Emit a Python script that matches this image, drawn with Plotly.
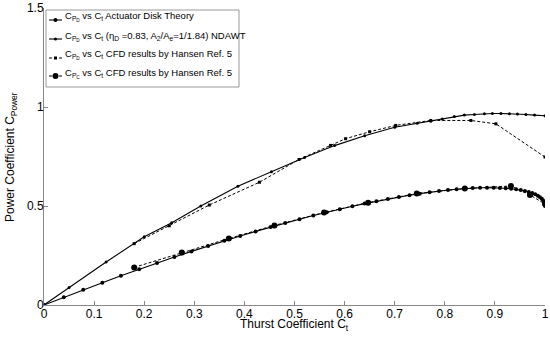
import plotly.graph_objects as go

# Actuator disk theory (C_PD vs C_t)
ad_ct = [0, 0.0396, 0.0784, 0.1164, 0.1536, 0.19, 0.2256, 0.2604, 0.2944, 0.3276, 0.36,
         0.3916, 0.4224, 0.4524, 0.4816, 0.51, 0.5376, 0.5644, 0.5904, 0.6156, 0.64,
         0.6636, 0.6864, 0.7084, 0.7296, 0.75, 0.7696, 0.7884, 0.8064, 0.8236, 0.84,
         0.8556, 0.8704, 0.8844, 0.8976, 0.91, 0.9216, 0.9324, 0.9424, 0.9516, 0.96,
         0.9676, 0.9744, 0.9804, 0.9856, 0.99, 0.9936, 0.9964, 0.9984, 0.9996, 1.0]
ad_cp = [0, 0.0392, 0.0768, 0.1129, 0.1475, 0.1805, 0.2121, 0.2422, 0.2708, 0.2981, 0.324,
         0.3485, 0.3717, 0.3936, 0.4142, 0.4335, 0.4516, 0.4685, 0.4841, 0.4986, 0.512,
         0.5242, 0.5354, 0.5455, 0.5545, 0.5625, 0.5695, 0.5755, 0.5806, 0.5848, 0.588,
         0.5904, 0.5919, 0.5925, 0.5924, 0.5915, 0.5898, 0.5874, 0.5843, 0.5805, 0.576,
         0.5709, 0.5652, 0.5588, 0.5519, 0.5445, 0.5365, 0.5281, 0.5191, 0.5098, 0.5]

# NDAWT (eta_D = 0.83, A2/Ae = 1/1.84)
nd_ct = [0, 0.05, 0.124, 0.2, 0.255, 0.313, 0.387, 0.454, 0.52, 0.58, 0.64, 0.70, 0.745,
         0.772, 0.795, 0.819, 0.839, 0.859, 0.879, 0.895, 0.912, 0.929, 0.945, 0.962, 0.979, 1.0]
nd_cp = [0, 0.088, 0.217, 0.345, 0.415, 0.50, 0.60, 0.673, 0.745, 0.805, 0.855, 0.898, 0.918,
         0.928, 0.940, 0.952, 0.959, 0.962, 0.966, 0.967, 0.967, 0.966, 0.965, 0.962, 0.959, 0.956]

# Hansen CFD C_PD
hd_ct = [0.18, 0.25, 0.33, 0.43, 0.509, 0.572, 0.602, 0.65, 0.702, 0.772, 0.852, 0.902, 1.0]
hd_cp = [0.31, 0.40, 0.505, 0.62, 0.735, 0.806, 0.84, 0.875, 0.907, 0.932, 0.932, 0.915, 0.747]

# Hansen CFD C_PC
hc_ct = [0.18, 0.275, 0.369, 0.46, 0.559, 0.647, 0.744, 0.84, 0.932, 0.97, 1.0]
hc_cp = [0.19, 0.265, 0.336, 0.402, 0.467, 0.517, 0.563, 0.588, 0.601, 0.556, 0.51]

x_ticks = [0, 0.1, 0.2, 0.3, 0.4, 0.5, 0.6, 0.7, 0.8, 0.9, 1]
x_labels = ["0", "0.1", "0.2", "0.3", "0.4", "0.5", "0.6", "0.7", "0.8", "0.9", "1"]
y_ticks = [0, 0.5, 1, 1.5]
y_labels = ["0", "0.5", "1", "1.5"]

legend_labels = [
    "C<sub>P<sub>D</sub></sub> vs C<sub>t</sub> Actuator Disk Theory",
    "C<sub>P<sub>D</sub></sub> vs C<sub>t</sub> (η<sub>D</sub> =0.83, A<sub>2</sub>/A<sub>e</sub>=1/1.84) NDAWT",
    "C<sub>P<sub>D</sub></sub> vs C<sub>t</sub> CFD results by Hansen Ref. 5",
    "C<sub>P<sub>C</sub></sub> vs C<sub>t</sub> CFD results by Hansen Ref. 5",
]

W, H = 550, 342
ML, MR, MT, MB = 44, 5, 8, 37
PW, PH = W - ML - MR, H - MT - MB


def px(x):
    return (x - ML) / PW


def py(y):
    return (H - MB - y) / PH


fig = go.Figure()
fig.add_trace(go.Scatter(x=ad_ct, y=ad_cp, mode="lines+markers",
                         line=dict(color="black", width=1.1),
                         marker=dict(color="black", size=4), name=legend_labels[0]))
fig.add_trace(go.Scatter(x=nd_ct, y=nd_cp, mode="lines+markers",
                         line=dict(color="black", width=1.1),
                         marker=dict(color="black", size=3), name=legend_labels[1]))
fig.add_trace(go.Scatter(x=hd_ct, y=hd_cp, mode="lines+markers",
                         line=dict(color="black", width=1.0, dash="3px,2px"),
                         marker=dict(color="black", size=3, symbol="square"), name=legend_labels[2]))
fig.add_trace(go.Scatter(x=hc_ct, y=hc_cp, mode="lines+markers",
                         line=dict(color="black", width=1.0, dash="3px,2px"),
                         marker=dict(color="black", size=6), name=legend_labels[3]))

shapes = []
annotations = []
# legend box
shapes.append(dict(type="rect", xref="paper", yref="paper",
                   x0=px(46), x1=px(239), y0=py(87), y1=py(10),
                   line=dict(color="#999999", width=1), fillcolor="white", layer="above"))
row_text_y = [17, 36, 55, 73]
row_line_y = [20, 39, 58, 76]
dashes = ["solid", "solid", "3px,2px", "3px,2px"]
msizes = [4, 3, 3, 6]
for i in range(4):
    shapes.append(dict(type="line", xref="paper", yref="paper",
                       x0=px(49), x1=px(62), y0=py(row_line_y[i]), y1=py(row_line_y[i]),
                       line=dict(color="black", width=1.1, dash=dashes[i]), layer="above"))
    r = msizes[i] / 2
    shapes.append(dict(type="circle" if i != 2 else "rect", xref="paper", yref="paper",
                       xsizemode="pixel", ysizemode="pixel",
                       xanchor=px(55.5), yanchor=py(row_line_y[i]),
                       x0=-r, x1=r, y0=-r, y1=r,
                       line=dict(color="black", width=0), fillcolor="black", layer="above"))
    annotations.append(dict(xref="paper", yref="paper", x=px(63), y=py(row_text_y[i]),
                            xanchor="left", yanchor="middle", showarrow=False,
                            text=legend_labels[i],
                            font=dict(size=9.5, family="Liberation Sans Narrow, Liberation Sans, Arial")))

annotations.append(dict(xref="paper", yref="paper", x=0.5, y=py(325), xanchor="center",
                        yanchor="middle", showarrow=False,
                        text="Thurst Coefficient C<sub>t</sub>", font=dict(size=12)))
annotations.append(dict(xref="paper", yref="paper", x=px(11), y=py(157), xanchor="center",
                        yanchor="middle", showarrow=False, textangle=-90,
                        text="Power Coefficient C<sub>Power</sub>", font=dict(size=12)))

fig.update_layout(
    width=W, height=H,
    margin=dict(l=ML, r=MR, t=MT, b=MB),
    paper_bgcolor="white", plot_bgcolor="white",
    font=dict(family="Liberation Sans, Arial, sans-serif", color="black", size=12),
    showlegend=False,
    shapes=shapes, annotations=annotations,
    xaxis=dict(range=[0, 1], tickvals=x_ticks, ticktext=x_labels, automargin=False,
               ticks="inside", ticklen=4, tickcolor="#888888",
               showline=True, linecolor="#888888", linewidth=1,
               showgrid=False, zeroline=False, ticklabelstandoff=-2),
    yaxis=dict(range=[0, 1.5], tickvals=y_ticks, ticktext=y_labels, automargin=False,
               ticks="inside", ticklen=4, tickcolor="#888888",
               showline=True, linecolor="#888888", linewidth=1,
               showgrid=False, zeroline=False, ticklabelstandoff=-3),
)

fig.write_html("out.html", config={"displayModeBar": False},
               post_script="document.body.style.margin='0px';document.body.style.padding='0px';")
